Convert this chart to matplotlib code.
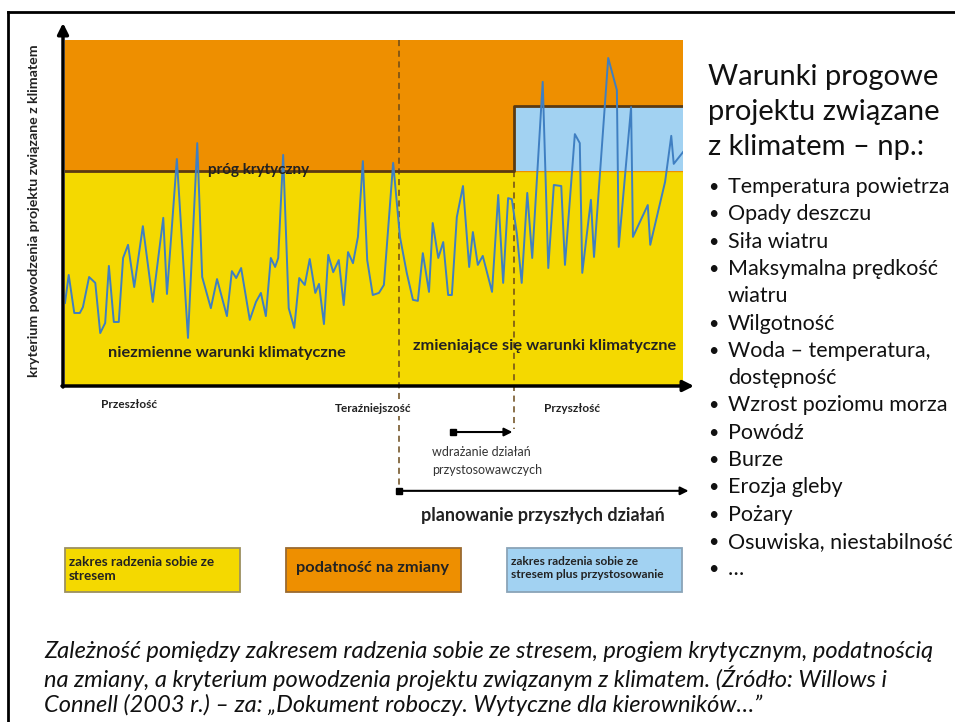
import matplotlib
matplotlib.use('Agg')
import matplotlib.pyplot as plt
from matplotlib.patches import Rectangle

# ---------------- data (arbitrary 0-100 scales) ----------------
czas = [0.0, 0.6, 1.5, 2.4, 2.9, 3.9, 4.9, 5.7, 6.5, 7.1, 7.9, 8.7, 9.4, 10.2, 11.2, 12.6,
        14.2, 15.9, 16.5, 18.1, 19.9, 21.4, 22.2, 23.6, 24.6, 26.2, 27.0, 27.7, 28.5, 29.9,
        30.9, 31.7, 32.5, 33.3, 34.0, 34.5, 35.3, 36.2, 37.1, 37.9, 38.8, 39.6, 40.5, 41.1,
        41.9, 42.6, 43.4, 44.3, 45.1, 45.8, 46.6, 47.4, 48.2, 48.9, 49.8, 50.8, 51.6, 53.1,
        54.2, 55.3, 56.3, 57.1, 57.9, 58.9, 59.5, 60.4, 61.2, 62.0, 62.6, 63.4, 64.4, 65.4,
        66.0, 66.8, 67.6, 69.1, 70.1, 70.9, 71.7, 72.3, 73.1, 73.9, 74.8, 75.6, 77.3, 78.2,
        79.1, 80.3, 80.9, 82.5, 83.3, 83.7, 85.1, 85.6, 87.9, 89.3, 89.6, 91.6, 91.9, 94.3,
        94.7, 97.1, 98.1, 98.5, 100.0]
kryterium = [24.0, 32.1, 21.1, 21.1, 22.8, 31.5, 29.8, 15.3, 18.2, 34.7, 18.5, 18.5, 37.0,
             40.8, 28.6, 46.2, 24.3, 48.6, 26.6, 65.6, 13.9, 70.2, 31.5, 22.5, 30.9, 20.2,
             33.2, 31.2, 34.1, 19.1, 24.3, 26.9, 20.2, 37.0, 34.4, 37.0, 66.8, 22.5, 16.8,
             31.2, 29.2, 36.7, 26.9, 29.5, 17.9, 37.9, 32.9, 36.4, 23.4, 38.7, 35.5, 43.1,
             65.0, 36.4, 26.3, 26.9, 29.2, 64.5, 43.1, 32.7, 24.9, 24.6, 38.4, 27.2, 47.1,
             37.0, 41.6, 26.3, 26.3, 48.8, 57.8, 34.4, 44.5, 35.0, 37.6, 27.2, 55.2, 29.8,
             54.3, 54.0, 44.2, 29.8, 55.8, 37.0, 87.9, 34.1, 58.1, 57.8, 35.0, 72.8, 70.2,
             32.7, 53.8, 37.3, 94.8, 85.5, 40.2, 80.6, 43.1, 52.3, 40.8, 59.0, 72.3, 64.2,
             67.6]
prog_krytyczny = 62.1
prog_po_adaptacji = 80.9
t_terazniejszosc = 54.0
t_adaptacja = 72.7
t_koniec = 100.0

etykieta_y = "kryterium powodzenia projektu związane z klimatem"
okresy = ["Przeszłość", "Teraźniejszość", "Przyszłość"]
tytul_prawy = ["Warunki progowe", "projektu związane", "z klimatem – np.:"]
punkty = ["Temperatura powietrza", "Opady deszczu", "Siła wiatru", "Maksymalna prędkość\nwiatru",
          "Wilgotność", "Woda – temperatura,\ndostępność", "Wzrost poziomu morza", "Powódź",
          "Burze", "Erozja gleby", "Pożary", "Osuwiska, niestabilność", "…"]
legenda = ["zakres radzenia sobie ze\nstresem", "podatność na zmiany",
           "zakres radzenia sobie ze\nstresem plus przystosowanie"]
podpis = ["Zależność pomiędzy zakresem radzenia sobie ze stresem, progiem krytycznym, podatnością",
          "na zmiany, a kryterium powodzenia projektu związanym z klimatem. (Źródło: Willows i",
          "Connell (2003 r.) – za: „Dokument roboczy. Wytyczne dla kierowników…”"]

# ---------------- style ----------------
plt.rcParams['font.family'] = ['Lato', 'DejaVu Sans']
ORANGE = '#EE8F00'
YELLOW = '#F4D900'
BLUE = '#A2D2F2'
BROWN = '#5A3A12'
LINE = '#3F7FC2'

W, H = 955, 722
fig = plt.figure(figsize=(W / 100, H / 100), dpi=100)

# main chart axes
ax = fig.add_axes([65 / W, 1 - 386 / H, 618 / W, 346 / H])
ax.set_xlim(0, t_koniec)
ax.set_ylim(0, 100)
ax.axis('off')

ax.axhspan(0, prog_krytyczny, color=YELLOW, zorder=0)
ax.axhspan(prog_krytyczny, 100, color=ORANGE, zorder=0)
ax.fill_between([t_adaptacja, t_koniec], prog_krytyczny, prog_po_adaptacji, color=BLUE, zorder=1, lw=0)
ax.plot([0, t_adaptacja, t_adaptacja, t_koniec],
        [prog_krytyczny, prog_krytyczny, prog_po_adaptacji, prog_po_adaptacji],
        color=BROWN, lw=2, zorder=3)
ax.plot(czas, kryterium, color=LINE, lw=1.4, zorder=4)

# dashed time markers
ax.plot([t_terazniejszosc, t_terazniejszosc], [100, -30.3], color='#6B4A1A', lw=1.1,
        ls=(0, (4, 3)), clip_on=False, zorder=2)
ax.plot([t_adaptacja, t_adaptacja], [prog_krytyczny, -12.5], color='#6B4A1A', lw=1.1,
        ls=(0, (4, 3)), clip_on=False, zorder=2)

# arrows for adaptation and planning
ax.annotate('', xy=(t_adaptacja - 0.3, -13.3), xytext=(62.8, -13.3), annotation_clip=False,
            arrowprops=dict(arrowstyle='-|>', color='black', lw=1.5, mutation_scale=12, shrinkA=0, shrinkB=0))
ax.plot([62.8], [-13.3], marker='s', ms=4.5, color='black', clip_on=False)
ax.annotate('', xy=(t_koniec + 0.9, -30.3), xytext=(t_terazniejszosc, -30.3), annotation_clip=False,
            arrowprops=dict(arrowstyle='-|>', color='black', lw=1.5, mutation_scale=12, shrinkA=0, shrinkB=0))
ax.plot([t_terazniejszosc], [-30.3], marker='s', ms=4, color='black', clip_on=False)

ax.text(31.3, prog_krytyczny + 0.4, "próg krytyczny", ha='center', va='center', fontsize=11,
        fontweight='bold', color='#222222', zorder=5)
ax.text(26.2, 9.5, "niezmienne warunki klimatyczne", ha='center', va='center', fontsize=11.8,
        fontweight='bold', color='#222222', zorder=5)
ax.text(77.6, 11.7, "zmieniające się warunki klimatyczne", ha='center', va='center', fontsize=11.8,
        fontweight='bold', color='#222222', zorder=5)

# overlay axes in pixel coordinates
ov = fig.add_axes([0, 0, 1, 1])
ov.set_xlim(0, W)
ov.set_ylim(H, 0)
ov.axis('off')

# frame
ov.plot([8, W], [12, 12], color='black', lw=2)
ov.plot([8, 8], [12, H], color='black', lw=2)

# chart axes arrows
ov.annotate('', xy=(63, 23), xytext=(63, 387),
            arrowprops=dict(arrowstyle='-|>', color='black', lw=2.5, mutation_scale=16, shrinkA=0, shrinkB=0))
ov.annotate('', xy=(694, 386), xytext=(62, 386),
            arrowprops=dict(arrowstyle='-|>', color='black', lw=2.5, mutation_scale=16, shrinkA=0, shrinkB=0))

ov.text(34, 211, etykieta_y, rotation=90, ha='center', va='center', fontsize=10.2,
        fontweight='bold', color='#222222')

ov.text(129, 404, okresy[0], ha='center', va='center', fontsize=8.5, fontweight='bold', color='#222222')
ov.text(373, 409, okresy[1], ha='center', va='center', fontsize=8.5, fontweight='bold', color='#222222',
        bbox=dict(facecolor='white', edgecolor='none', pad=1))
ov.text(572, 409, okresy[2], ha='center', va='center', fontsize=8.5, fontweight='bold', color='#222222')

ov.text(432, 452, "wdrażanie działań", ha='left', va='center', fontsize=9, color='#333333')
ov.text(432, 470, "przystosowawczych", ha='left', va='center', fontsize=9, color='#333333')
ov.text(543, 515, "planowanie przyszłych działań", ha='center', va='center', fontsize=13,
        fontweight='bold', color='#222222')

# legend boxes
boxes = [(65, YELLOW, '#9C9060'), (286, ORANGE, '#9A6A30'), (507, BLUE, '#8AA4B8')]
for (x0, fc, ec) in boxes:
    ov.add_patch(Rectangle((x0, 548), 175, 44, facecolor=fc, edgecolor=ec, lw=1.3))
ov.text(69, 569, legenda[0], ha='left', va='center', fontsize=9.7, fontweight='bold',
        color='#222222', linespacing=1.3)
ov.text(372, 568, legenda[1], ha='center', va='center', fontsize=11.8, fontweight='bold',
        color='#222222')
ov.text(511, 568, legenda[2], ha='left', va='center', fontsize=8.6, fontweight='bold',
        color='#222222', linespacing=1.3)

# right-hand text block
for i, s in enumerate(tytul_prawy):
    ov.text(708, 77 + i * 35, s, ha='left', va='center', fontsize=21, color='#111111')
y = 187
for s in punkty:
    lines = s.split('\n')
    ov.text(713, y, '•', ha='center', va='center', fontsize=13, color='#111111')
    for ln in lines:
        ov.text(728, y, ln, ha='left', va='center', fontsize=15.5, color='#111111', clip_on=False)
        y += 27.3

# caption
for i, s in enumerate(podpis):
    ov.text(44, 652 + i * 26.5, s, ha='left', va='center', fontsize=17, style='italic',
            color='#111111')

fig.savefig('out.png', dpi=100)
